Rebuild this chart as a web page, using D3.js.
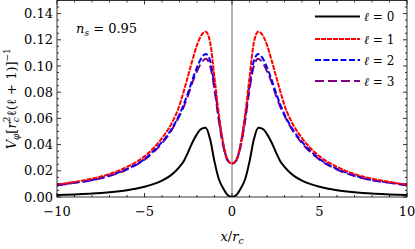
<!DOCTYPE html>
<html>
<head>
<meta charset="utf-8">
<style>
body { margin: 0; background: #fff; }
</style>
</head>
<body>
<svg id="chart"></svg>
<script src="https://cdn.jsdelivr.net/npm/d3@7"></script>
<script>

// values (curves are symmetric about x = 0)
const xValues = [-10, -9, -8, -7, -6, -5, -4.5, -4, -3.5, -3, -2.75, -2.5, -2.25, -2, -1.75, -1.5, -1.25, -1, -0.75, -0.5, -0.25,
    0, 0.25, 0.5, 0.75, 1, 1.25, 1.5, 1.75, 2, 2.25, 2.5, 2.75, 3, 3.5, 4, 4.5, 5, 6, 7, 8, 9, 10];

const ell0 = [0.0015, 0.002, 0.0026, 0.0036, 0.0052, 0.0078, 0.0098, 0.0125, 0.0165, 0.023, 0.0275, 0.0345, 0.042, 0.048, 0.052, 0.0528, 0.044, 0.027, 0.0135, 0.0065, 0.0015,
    0, 0.0015, 0.0065, 0.0135, 0.027, 0.044, 0.0528, 0.052, 0.048, 0.042, 0.0345, 0.0275, 0.023, 0.0165, 0.0125, 0.0098, 0.0078, 0.0052, 0.0036, 0.0026, 0.002, 0.0015];

const ell1 = [0.0095, 0.0115, 0.014, 0.0175, 0.023, 0.031, 0.037, 0.045, 0.055, 0.070, 0.081, 0.093, 0.105, 0.116, 0.1235, 0.1262, 0.118, 0.091, 0.063, 0.041, 0.0285,
    0.0255, 0.0285, 0.041, 0.063, 0.091, 0.118, 0.1262, 0.1235, 0.116, 0.105, 0.093, 0.081, 0.070, 0.055, 0.045, 0.037, 0.031, 0.023, 0.0175, 0.014, 0.0115, 0.0095];

const ell2 = [0.009, 0.011, 0.013, 0.0165, 0.0215, 0.029, 0.035, 0.042, 0.051, 0.063, 0.071, 0.080, 0.090, 0.099, 0.106, 0.1092, 0.104, 0.085, 0.060, 0.040, 0.028,
    0.0255, 0.028, 0.040, 0.060, 0.085, 0.104, 0.1092, 0.106, 0.099, 0.090, 0.080, 0.071, 0.063, 0.051, 0.042, 0.035, 0.029, 0.0215, 0.0165, 0.013, 0.011, 0.009];

const ell3 = [0.0088, 0.0108, 0.0128, 0.016, 0.021, 0.0285, 0.034, 0.041, 0.050, 0.062, 0.069, 0.078, 0.088, 0.096, 0.1025, 0.1056, 0.100, 0.082, 0.058, 0.039, 0.028,
    0.0255, 0.028, 0.039, 0.058, 0.082, 0.100, 0.1056, 0.1025, 0.096, 0.088, 0.078, 0.069, 0.062, 0.050, 0.041, 0.034, 0.0285, 0.021, 0.016, 0.0128, 0.0108, 0.0088];

const seriesNames = ['ℓ = 0', 'ℓ = 1', 'ℓ = 2', 'ℓ = 3'];
const xTicks = [-10, -5, 0, 5, 10];
const yTicks = [0, 0.02, 0.04, 0.06, 0.08, 0.10, 0.12, 0.14];

const fullWidth = 415;
const fullHeight = 249;
const margin = {top: 0.5, right: 8, bottom: 52, left: 57};
const serif = 'DejaVu Serif';

const svg = d3.select('#chart')
    .attr('width', fullWidth)
    .attr('height', fullHeight);

const x = d3.scaleLinear()
    .domain([-10, 10])
    .range([margin.left, fullWidth - margin.right]);

const y = d3.scaleLinear()
    .domain([0, 0.15])
    .range([fullHeight - margin.bottom, margin.top]);

const [x0, x1] = x.range();
const [y0, y1] = y.range();

svg.append('clipPath').attr('id', 'clip')
    .append('rect')
    .attr('x', x0).attr('y', y1)
    .attr('width', x1 - x0).attr('height', y0 - y1);

// vertical line at x = 0
svg.append('line')
    .attr('x1', x(0)).attr('x2', x(0))
    .attr('y1', y1).attr('y2', y0)
    .attr('stroke', '#444')
    .attr('stroke-width', 0.8);

// curves
const styles = [
    {color: '#000000', dash: null},
    {color: '#ff0000', dash: '5,1'},
    {color: '#0000ff', dash: '6,2.5'},
    {color: '#800080', dash: '9,4'},
];
const allSeries = [ell0, ell1, ell2, ell3];

const line = d3.line()
    .x((d, i) => x(xValues[i]))
    .y(d => y(d))
    .curve(d3.curveMonotoneX);

const plot = svg.append('g').attr('clip-path', 'url(#clip)');

[3, 2, 1, 0].forEach(k => {
    plot.append('path')
        .datum(allSeries[k])
        .attr('d', line)
        .attr('fill', 'none')
        .attr('stroke', styles[k].color)
        .attr('stroke-width', 2)
        .attr('stroke-dasharray', styles[k].dash);
});

// frame + ticks, inside on every side
const xMinor = d3.range(-10, 10.01, 1);
const yMinor = d3.range(0, 0.1501, 0.005);

const axes = svg.append('g').attr('stroke', '#000').attr('stroke-width', 0.8);

axes.append('rect')
    .attr('x', x0).attr('y', y1)
    .attr('width', x1 - x0).attr('height', y0 - y1)
    .attr('fill', 'none');

xMinor.forEach(v => {
    const major = xTicks.includes(Math.round(v));
    const len = major ? 4 : 2;
    axes.append('line').attr('x1', x(v)).attr('x2', x(v)).attr('y1', y0).attr('y2', y0 - len);
    axes.append('line').attr('x1', x(v)).attr('x2', x(v)).attr('y1', y1).attr('y2', y1 + len);
});

yMinor.forEach(v => {
    const major = Math.abs(Math.round(v / 0.02) * 0.02 - v) < 1e-6;
    const len = major ? 4 : 2;
    axes.append('line').attr('x1', x0).attr('x2', x0 + len).attr('y1', y(v)).attr('y2', y(v));
    axes.append('line').attr('x1', x1).attr('x2', x1 - len).attr('y1', y(v)).attr('y2', y(v));
});

// tick labels
svg.append('g')
    .selectAll('text')
    .data(xTicks)
    .join('text')
    .attr('font-family', serif)
    .attr('x', d => x(d))
    .attr('y', y0 + 19)
    .attr('text-anchor', 'middle')
    .attr('font-size', 13)
    .text(d => d < 0 ? '\u2212' + Math.abs(d) : d);

svg.append('g')
    .selectAll('text')
    .data(yTicks)
    .join('text')
    .attr('font-family', serif)
    .attr('x', x0 - 4)
    .attr('y', d => y(d) + 4.5)
    .attr('text-anchor', 'end')
    .attr('font-size', 13)
    .text(d => d3.format('.2f')(d));

// axis titles
const xTitle = svg.append('text')
    .attr('font-family', serif)
    .attr('x', x(0))
    .attr('y', 241)
    .attr('text-anchor', 'middle')
    .attr('font-size', 13);
xTitle.append('tspan').attr('font-style', 'italic').text('x');
xTitle.append('tspan').text('/');
xTitle.append('tspan').attr('font-style', 'italic').text('r');
xTitle.append('tspan').attr('font-style', 'italic').attr('font-size', 9).attr('dy', 3).text('c');

const yTitle = svg.append('text')
    .attr('font-family', serif)
    .attr('transform', `translate(16, ${(y0 + y1) / 2}) rotate(-90)`)
    .attr('text-anchor', 'middle')
    .attr('font-size', 13);
yTitle.append('tspan').attr('font-style', 'italic').text('V');
yTitle.append('tspan').attr('font-style', 'italic').attr('font-size', 9).attr('dy', 3).text('φ');
yTitle.append('tspan').attr('dy', -3).text('[');
yTitle.append('tspan').attr('font-style', 'italic').text('r');
yTitle.append('tspan').attr('font-style', 'italic').attr('font-size', 9).attr('dy', 3).text('c');
yTitle.append('tspan').attr('font-size', 9).attr('dx', -5).attr('dy', -9).text('2');
yTitle.append('tspan').attr('dy', 6).text('ℓ(ℓ + 1)]');
yTitle.append('tspan').attr('font-size', 9).attr('dy', -6).text('\u22121');

// n_s annotation
const ns = svg.append('text')
    .attr('font-family', serif)
    .attr('x', 76)
    .attr('y', 33)
    .attr('font-size', 13);
ns.append('tspan').attr('font-style', 'italic').text('n');
ns.append('tspan').attr('font-style', 'italic').attr('font-size', 9).attr('dy', 3).text('s');
ns.append('tspan').attr('dy', -3).text(' = 0.95');

// legend
const legend = svg.append('g');
const legendY = [16.5, 39, 60, 81];
seriesNames.forEach((name, k) => {
    legend.append('line')
        .attr('x1', 315).attr('x2', 360)
        .attr('y1', legendY[k]).attr('y2', legendY[k])
        .attr('stroke', styles[k].color)
        .attr('stroke-width', 2)
        .attr('stroke-dasharray', styles[k].dash);
    const t = legend.append('text')
        .attr('font-family', serif)
        .attr('x', 364)
        .attr('y', legendY[k] + 4.5)
        .attr('font-size', 12);
    t.append('tspan').attr('font-style', 'italic').text('ℓ');
    t.append('tspan').text(name.slice(1));
});

</script>
</body>
</html>
